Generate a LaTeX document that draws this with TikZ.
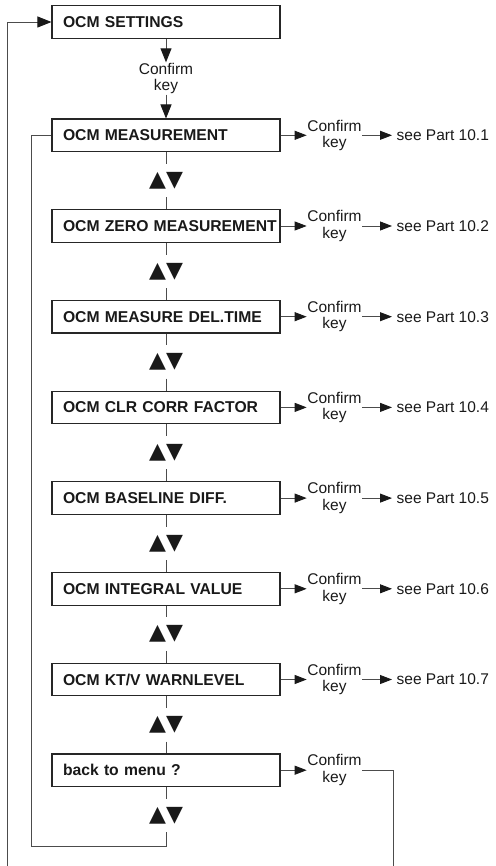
\documentclass[tikz,border=0pt]{standalone}
\usepackage{fontspec}
\setmainfont{Liberation Sans}
\newfontfamily\symfont{DejaVu Sans}
\usetikzlibrary{arrows.meta}
\begin{document}
\begin{tikzpicture}[x=1pt,y=-1pt,
  box/.style={draw=black!85, line width=1.1pt, text width=206pt, inner xsep=11pt, inner ysep=0pt,
    minimum height=32.5pt, align=left, font=\bfseries\fontsize{15.7}{17}\selectfont, text=black!90},
  conf/.style={align=center, inner sep=0.5pt, font=\fontsize{15.5}{16.5}\selectfont, text=black!90},
  see/.style={anchor=west, inner xsep=4.5pt, inner ysep=0pt, font=\fontsize{15.5}{17}\selectfont, text=black!90},
  keys/.style={inner sep=0pt, minimum height=33pt, font=\symfont\fontsize{22}{22}\selectfont, text=black!90},
  conn/.style={draw=black!70, line width=0.9pt},
  arr/.style={conn, -{Triangle[length=12pt,width=9pt,fill=black!90,color=black!90]}},
  bigarr/.style={conn, -{Triangle[length=14pt,width=11pt,fill=black!90,color=black!90]}},
]
\useasboundingbox (0,0) rectangle (495,866);

\node[box] (set) at (166,22) {\makebox[206pt][l]{OCM SETTINGS}};
\node[conf] (tc) at (166,78.5) {Confirm\\key};
\draw[bigarr] (set.south) -- (tc.north);

\foreach \i/\t/\p in {0/{OCM MEASUREMENT}/1, 1/{OCM ZERO MEASUREMENT}/2, 2/{OCM MEASURE DEL.TIME}/3,
  3/{OCM CLR CORR FACTOR}/4, 4/{OCM BASELINE DIFF.}/5, 5/{OCM INTEGRAL VALUE}/6, 6/{OCM KT/V WARNLEVEL}/7} {
  \pgfmathsetmacro{\yc}{135.3+90.7*\i}
  \pgfmathsetmacro{\ya}{180.6+90.7*\i}
  \node[box] (b\i) at (166,\yc) {\makebox[206pt][l]{\t}};
  \node[keys] (a\i) at (166,\ya) {▲▼};
  \node[conf] (c\i) at (334.5,\yc) {Confirm\\key};
  \node[see] (s\i) at (392,\yc) {see Part 10.\p};
  \draw[arr] (b\i.east) -- (c\i.west);
  \draw[arr] (c\i.east) -- (s\i.west);
  \draw[conn] (b\i.south) -- (a\i.north);
}
\node[box] (b7) at (166,770.2) {\makebox[206pt][l]{back to menu ?}};
\node[keys] (a7) at (166,815.5) {▲▼};
\node[conf] (c7) at (334.5,770.2) {Confirm\\key};
\draw[arr] (b7.east) -- (c7.west);
\draw[conn] (b7.south) -- (a7.north);

\draw[bigarr] (tc.south) -- (b0.north);
\foreach \i/\j in {0/1,1/2,2/3,3/4,4/5,5/6,6/7} {
  \draw[conn] (a\i.south) -- (b\j.north);
}

\coordinate (rb) at (393,866);
\coordinate (lb) at (7,866);
\coordinate (ib) at (31,846);
\draw[conn] (c7.east) -| (rb);
\draw[bigarr] (lb) |- (set.west);
\draw[conn] (a7.south) |- (ib) |- (b0.west);
\end{tikzpicture}
\end{document}
